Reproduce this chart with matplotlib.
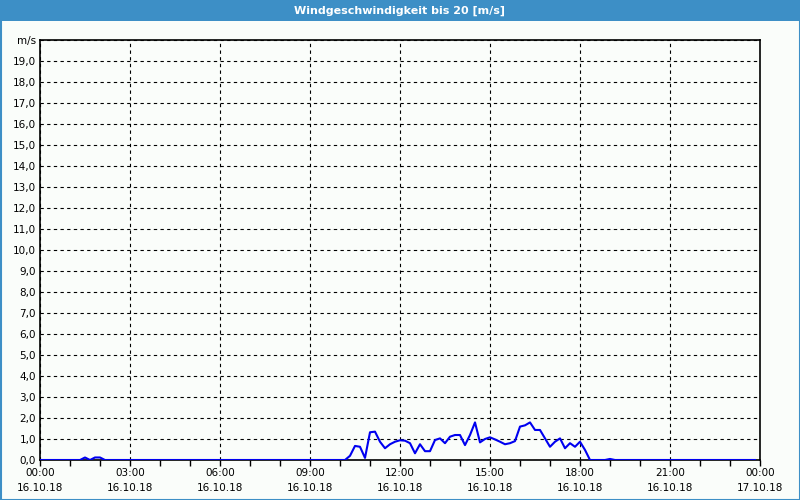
import numpy as np
import matplotlib
matplotlib.use("Agg")
import matplotlib.pyplot as plt
from matplotlib.patches import Rectangle

# Windgeschwindigkeit in m/s, alle 10 Minuten (eine Zeile = eine Stunde)
speed = [
    0.0, 0.0, 0.0, 0.0, 0.0, 0.0,        # 00
    0.0, 0.0, 0.0, 0.12, 0.0, 0.12,      # 01
    0.12, 0.0, 0.0, 0.0, 0.0, 0.0,       # 02
    0.0, 0.0, 0.0, 0.0, 0.0, 0.0,        # 03
    0.0, 0.0, 0.0, 0.0, 0.0, 0.0,        # 04
    0.0, 0.0, 0.0, 0.0, 0.0, 0.0,        # 05
    0.0, 0.0, 0.0, 0.0, 0.0, 0.0,        # 06
    0.0, 0.0, 0.0, 0.0, 0.0, 0.0,        # 07
    0.0, 0.0, 0.0, 0.0, 0.0, 0.0,        # 08
    0.0, 0.0, 0.0, 0.0, 0.0, 0.0,        # 09
    0.0, 0.0, 0.2, 0.67, 0.63, 0.1,      # 10
    1.32, 1.35, 0.87, 0.56, 0.75, 0.87,  # 11
    0.94, 0.92, 0.8, 0.32, 0.75, 0.42,   # 12
    0.42, 0.95, 1.03, 0.8, 1.11, 1.19,   # 13
    1.19, 0.71, 1.19, 1.79, 0.84, 1.0,   # 14
    1.08, 0.98, 0.87, 0.75, 0.8, 0.9,    # 15
    1.59, 1.65, 1.79, 1.43, 1.43, 1.03,  # 16
    0.63, 0.87, 1.03, 0.56, 0.8, 0.63,   # 17
    0.87, 0.48, 0.0, 0.0, 0.0, 0.0,      # 18
    0.05, 0.0, 0.0, 0.0, 0.0, 0.0,       # 19
    0.0, 0.0, 0.0, 0.0, 0.0, 0.0,        # 20
    0.0, 0.0, 0.0, 0.0, 0.0, 0.0,        # 21
    0.0, 0.0, 0.0, 0.0, 0.0, 0.0,        # 22
    0.0, 0.0, 0.0, 0.0, 0.0, 0.0,        # 23
]
hours = np.arange(len(speed)) / 6.0

x_ticks = [0, 3, 6, 9, 12, 15, 18, 21, 24]
x_labels = ["00:00\n16.10.18", "03:00\n16.10.18", "06:00\n16.10.18",
            "09:00\n16.10.18", "12:00\n16.10.18", "15:00\n16.10.18",
            "18:00\n16.10.18", "21:00\n16.10.18", "00:00\n17.10.18"]
y_ticks = list(range(0, 21))
y_labels = [f"{v},0" for v in range(0, 20)] + ["m/s"]

bg = "#fafdfa"
bar_blue = "#3d8fc6"

fig = plt.figure(figsize=(8, 5), dpi=100, facecolor=bg)

# Titelleiste oben
fig.patches.append(Rectangle((0, 1 - 21 / 500), 1, 21 / 500, transform=fig.transFigure,
                             facecolor=bar_blue, edgecolor="none", zorder=0))
fig.patches.append(Rectangle((0.5 / 800, 0.5 / 500), 1 - 1 / 800, 1 - 1 / 500,
                             transform=fig.transFigure, facecolor="none",
                             edgecolor=bar_blue, linewidth=1.5, zorder=0))
fig.text(0.5, 1 - 10.5 / 500, "Windgeschwindigkeit bis 20 [m/s]", color="white",
         fontsize=8, fontweight="bold", ha="center", va="center")

ax = fig.add_axes([40 / 800, 40 / 500, 720 / 800, 420 / 500])
ax.set_facecolor(bg)
ax.plot(hours, speed, color="#0000f0", linewidth=1.5, solid_joinstyle="round", zorder=3)

ax.set_xlim(0, 24)
ax.set_ylim(0, 20)
ax.set_xticks(x_ticks)
ax.set_xticklabels(x_labels, fontsize=7.5, linespacing=1.6)
ax.set_xticks(np.arange(0, 25, 1), minor=True)
ax.set_yticks(y_ticks)
ax.set_yticklabels(y_labels, fontsize=7.5)

ax.tick_params(axis="x", which="both", direction="out", length=4, width=1, pad=2)
ax.tick_params(axis="y", which="both", length=0, pad=3)
ax.grid(True, which="major", color="black", linestyle=(0, (3, 3)), linewidth=0.8)

for s in ax.spines.values():
    s.set_linewidth(1.2)
    s.set_color("black")

fig.savefig("out.png", dpi=100, facecolor=bg)
